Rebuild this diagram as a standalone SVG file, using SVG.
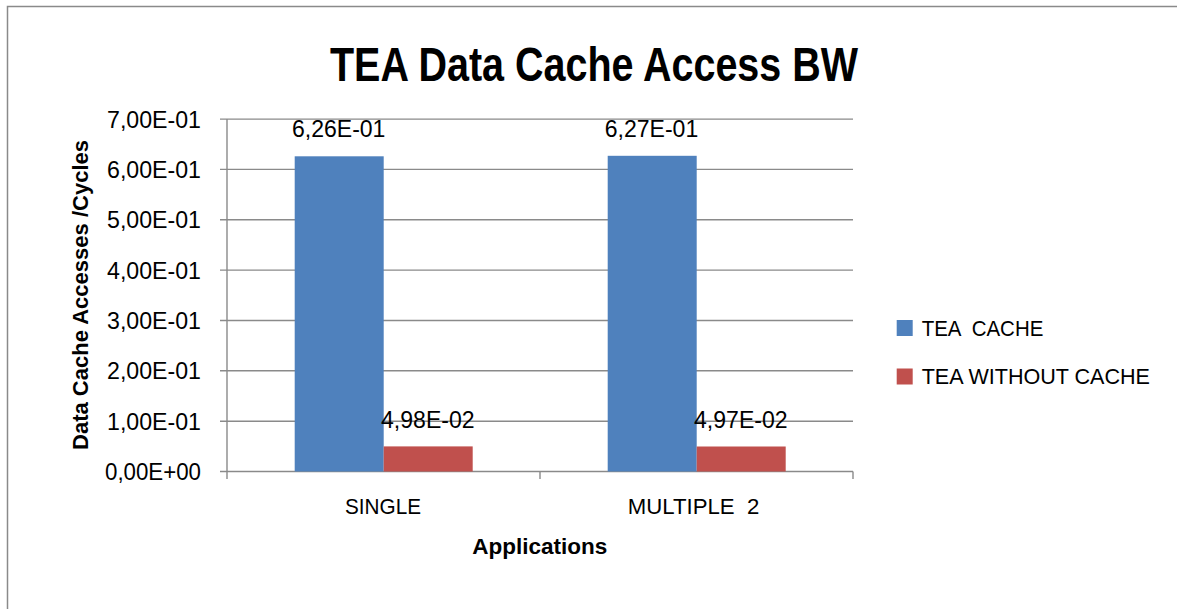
<svg xmlns="http://www.w3.org/2000/svg" width="1177" height="609" viewBox="0 0 1177 609">
  <style>
    .frame { fill: none; stroke: #8a8a8a; stroke-width: 1.5; }
    .grid { stroke: #8a8a8a; stroke-width: 1.4; fill: none; }
    .axis { stroke: #8a8a8a; stroke-width: 1.4; fill: none; }
    .txt { font-family: "Liberation Sans", Arial, sans-serif; fill: #000; }
    .title { font-size: 49px; font-weight: bold; }
    .num { font-size: 23.5px; }
    .axtitle { font-size: 22.5px; font-weight: bold; }
    .cat { font-size: 22px; }
    .leg { font-size: 22.5px; }
    .s1 { fill: #4f81bd; }
    .s2 { fill: #c0504d; }
  </style>

  <rect x="0" y="0" width="1177" height="609" fill="#ffffff"/>
  <!-- chart frame (right and bottom edges run off the canvas) -->
  <path class="frame" d="M7.5,620 V6.5 H1190"/>

  <!-- title -->
  <text class="txt title" x="330" y="81" textLength="528" lengthAdjust="spacingAndGlyphs">TEA Data Cache Access BW</text>

  <!-- gridlines and axes -->
  <g id="axes">
    <path class="grid" d="M220,119.1 H853 M220,169.4 H853 M220,219.8 H853 M220,270.1 H853 M220,320.5 H853 M220,370.8 H853 M220,421.2 H853"/>
    <path class="axis" d="M220,471.5 H853 M227,119.1 V479 M540,471.5 V479 M853,471.5 V479"/>
  </g>

  <!-- value axis labels -->
  <g id="y-labels" class="txt num" text-anchor="end">
    <text x="201" y="127.5" textLength="94" lengthAdjust="spacingAndGlyphs">7,00E-01</text>
    <text x="201" y="177.8" textLength="94" lengthAdjust="spacingAndGlyphs">6,00E-01</text>
    <text x="201" y="228.2" textLength="94" lengthAdjust="spacingAndGlyphs">5,00E-01</text>
    <text x="201" y="278.5" textLength="94" lengthAdjust="spacingAndGlyphs">4,00E-01</text>
    <text x="201" y="328.9" textLength="94" lengthAdjust="spacingAndGlyphs">3,00E-01</text>
    <text x="201" y="379.2" textLength="94" lengthAdjust="spacingAndGlyphs">2,00E-01</text>
    <text x="201" y="429.6" textLength="94" lengthAdjust="spacingAndGlyphs">1,00E-01</text>
    <text x="201" y="479.9" textLength="96" lengthAdjust="spacingAndGlyphs">0,00E+00</text>
  </g>

  <text class="txt axtitle" transform="translate(87.5,295) rotate(-90)" text-anchor="middle" textLength="310" lengthAdjust="spacingAndGlyphs">Data Cache Accesses /Cycles</text>

  <!-- bars -->
  <g id="series-cache">
    <rect class="s1" x="294.7" y="156.3" width="89" height="315.2"/>
    <rect class="s1" x="607.7" y="155.8" width="89" height="315.7"/>
  </g>
  <g id="series-nocache">
    <rect class="s2" x="383.7" y="446.4" width="89" height="25.1"/>
    <rect class="s2" x="696.7" y="446.5" width="89" height="25"/>
  </g>

  <!-- data labels -->
  <g id="data-labels" class="txt num" text-anchor="middle">
    <text x="338.7" y="136.7" textLength="93.5" lengthAdjust="spacingAndGlyphs">6,26E-01</text>
    <text x="651.5" y="136.7" textLength="93.5" lengthAdjust="spacingAndGlyphs">6,27E-01</text>
    <text x="427.8" y="427.5" textLength="93.5" lengthAdjust="spacingAndGlyphs">4,98E-02</text>
    <text x="740.8" y="427.5" textLength="93.5" lengthAdjust="spacingAndGlyphs">4,97E-02</text>
  </g>

  <!-- category labels -->
  <g id="x-labels" class="txt cat">
    <text x="345" y="513.5" textLength="76" lengthAdjust="spacingAndGlyphs">SINGLE</text>
    <text x="627.7" y="513.5" xml:space="preserve" textLength="131.6" lengthAdjust="spacingAndGlyphs">MULTIPLE  2</text>
  </g>
  <text class="txt axtitle" x="472.3" y="554" textLength="135" lengthAdjust="spacingAndGlyphs">Applications</text>

  <!-- legend -->
  <g id="legend">
    <g id="legend-cache">
      <rect class="s1" x="896.7" y="320" width="16" height="16"/>
      <text class="txt leg" x="921.7" y="336" xml:space="preserve" textLength="121.6" lengthAdjust="spacingAndGlyphs">TEA  CACHE</text>
    </g>
    <g id="legend-nocache">
      <rect class="s2" x="896.7" y="368.5" width="16" height="16"/>
      <text class="txt leg" x="921.7" y="384.3" textLength="228.3" lengthAdjust="spacingAndGlyphs">TEA WITHOUT CACHE</text>
    </g>
  </g>
</svg>
